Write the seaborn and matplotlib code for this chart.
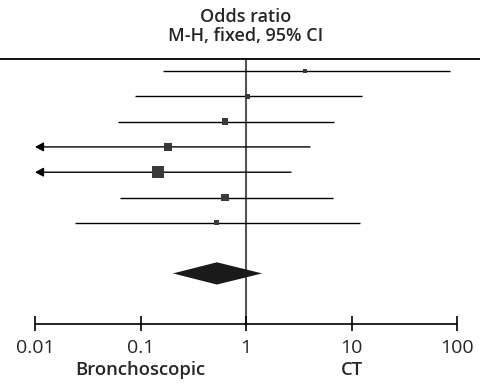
import pandas as pd
import matplotlib.pyplot as plt
import seaborn as sns

# study estimates (odds ratio, 95% CI)
odds = [3.62, 1.04, 0.632, 0.182, 0.146, 0.632, 0.52]
lower = [0.163, 0.0887, 0.061, 0.004, 0.003, 0.064, 0.0238]
upper = [85.9, 12.6, 6.83, 4.04, 2.67, 6.68, 11.97]
weight = [6.5, 6, 12.5, 18, 36, 14, 7]

# pooled estimate
pooled_or = 0.53
pooled_lo = 0.203
pooled_hi = 1.42

ticks = [0.01, 0.1, 1, 10, 100]
tick_labels = ["0.01", "0.1", "1", "10", "100"]

df = pd.DataFrame({"or": odds, "lo": lower, "hi": upper, "weight": weight})
df["row"] = range(len(df))

sns.set_style("white")
plt.rcParams["font.family"] = ["Open Sans", "DejaVu Sans"]

fig = plt.figure(figsize=(4.8, 3.85), dpi=100)
ax = fig.add_axes([0, 0, 1, 1])
ax.set_xscale("log")
ax.set_xlim(10 ** -2.332, 10 ** 2.218)
ax.set_ylim(12.41, -2.806)
ax.axis("off")

axis_min = ticks[0]
# confidence intervals, arrow when the lower limit falls off the scale
for _, r in df.iterrows():
    if r["lo"] < axis_min:
        ax.annotate("", xy=(axis_min, r["row"]), xytext=(r["hi"], r["row"]),
                    arrowprops=dict(arrowstyle="-|>,head_length=0.5,head_width=0.27",
                                    mutation_scale=10, color="black", lw=1.0,
                                    shrinkA=0, shrinkB=0))
    else:
        ax.hlines(r["row"], r["lo"], r["hi"], color="black", lw=1.0)

# line of no effect
ax.vlines(1, -0.47, 10, color="#555555", lw=1.5, zorder=1)

sns.scatterplot(data=df, x="or", y="row", size="weight", sizes=(0, 68),
                size_norm=(0, 36), marker="s", color="#3a3a3a", linewidth=0,
                legend=False, ax=ax, zorder=3)

# pooled diamond
h = 0.44
ax.fill([pooled_lo, pooled_or, pooled_hi, pooled_or], [8, 8 - h, 8, 8 + h],
        color="#1a1a1a", lw=0, zorder=3)

# top rule and header
ax.axhline(-0.47, color="black", lw=1.3)
ax.text(1, -1.92, "Odds ratio", ha="center", va="baseline", fontsize=13,
        fontweight="semibold")
ax.text(1, -1.186, "M-H, fixed, 95% CI", ha="center", va="baseline", fontsize=13,
        fontweight="semibold")

# x axis
ax.hlines(10, ticks[0], ticks[-1], color="black", lw=1.2)
ax.vlines(ticks, 9.68, 10.28, color="black", lw=1.2)
for t, lab in zip(ticks, tick_labels):
    ax.text(t, 11.15, lab, ha="center", va="baseline", fontsize=14)
ax.text(0.1, 12.02, "Bronchoscopic", ha="center", va="baseline", fontsize=13.3,
        fontweight="semibold")
ax.text(10, 12.02, "CT", ha="center", va="baseline", fontsize=13.3,
        fontweight="semibold")

fig.savefig("out.png", dpi=100)
